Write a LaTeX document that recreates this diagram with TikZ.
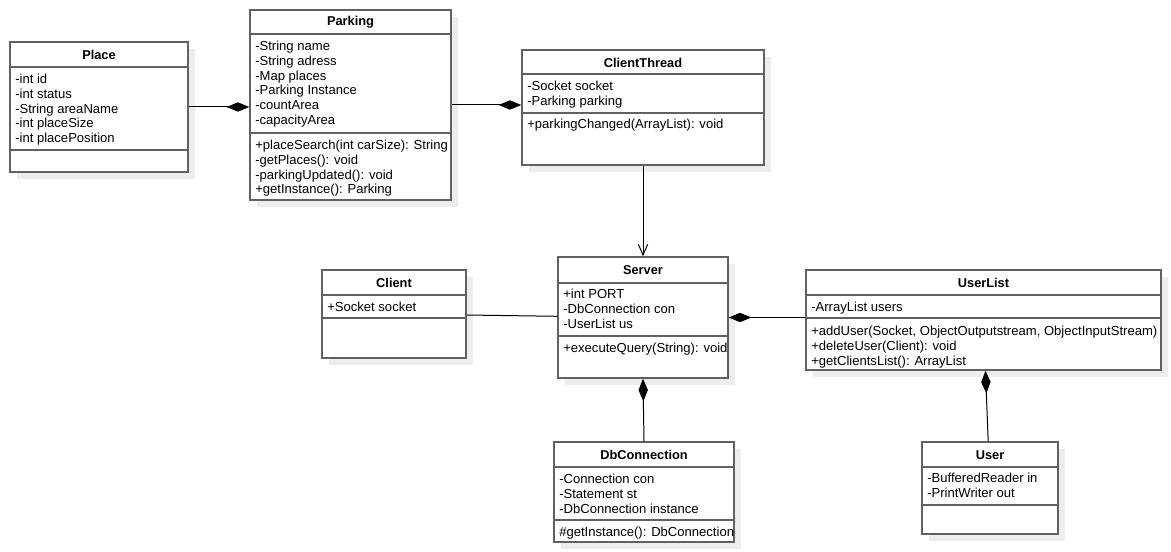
\documentclass[tikz,border=0pt]{standalone}
\usepackage{fontspec}
\setmainfont{Liberation Sans}
\usetikzlibrary{fit,arrows.meta,shadows}
\tikzset{
  classbox/.style={draw=black!62, line width=1.1pt, fill=white, inner sep=0pt,
    drop shadow={shadow xshift=5.25pt, shadow yshift=-5.25pt, fill=black!7, opacity=1}},
  sepline/.style={draw=black!62, line width=1.1pt},
  ctitle/.style={font=\fontsize{9.6}{11}\selectfont\bfseries, inner sep=0pt},
  member/.style={font=\fontsize{9.8}{11}\selectfont, inner sep=0pt, anchor=mid west},
  assoc/.style={draw=black, line width=0.75pt},
  comp/.style={assoc, {Diamond[length=17pt,width=7pt]}-},
  nav/.style={assoc, -{Straight Barb[length=8pt,width=7pt]}},
}
\newcommand{\umlclass}[8]{%
  \node[classbox, fit={(#2,#3)(#4,#5)}] (#1) {};
  \draw[sepline] (#2,#6) -- (#4,#6);
  \draw[sepline] (#2,#7) -- (#4,#7);
  \node[ctitle] (#1-title) at ({(#2+#4)/2},{(#3+#6)/2+0.5}) {#8};
}
\newcommand{\members}[4]{%
  \foreach \m [count=\i from 0] in {#4}
    \node[member] (#1-\i) at (#2,{#3+1+14.8*\i}) {\m};
}
\begin{document}
\begin{tikzpicture}[x=0.75pt,y=-0.75pt]
\useasboundingbox[fill=white] (0,0) rectangle (1171,552);

% Place
\umlclass{place}{10}{42}{188}{172}{67}{150}{Place}
\members{placea}{15}{79}{-int id,-int status,-String areaName,-int placeSize,-int placePosition}

% Parking
\umlclass{parking}{250}{10}{451}{200}{34}{133}{Parking}
\members{parkinga}{255}{46}{-String name,-String adress,-Map places,-Parking Instance,-countArea,-capacityArea}
\members{parkingm}{255}{145}{+placeSearch(int carSize): String,-getPlaces(): void,-parkingUpdated(): void,+getInstance(): Parking}

% ClientThread
\umlclass{ct}{522}{50}{764}{165}{74}{113}{ClientThread}
\members{cta}{527}{86}{-Socket socket,-Parking parking}
\members{ctm}{527}{124}{+parkingChanged(ArrayList): void}

% Server
\umlclass{server}{558}{257}{728}{378}{283}{336}{Server}
\members{servera}{563}{294}{+int PORT,-DbConnection con,-UserList us}
\members{serverm}{563}{348}{+executeQuery(String): void}

% Client
\umlclass{client}{322}{270}{466}{358}{295}{318}{Client}
\members{clienta}{327}{307}{+Socket socket}

% DbConnection
\umlclass{db}{554}{442}{734}{542}{467}{520}{DbConnection}
\members{dba}{559}{479}{-Connection con,-Statement st,-DbConnection instance}
\members{dbm}{559}{532}{\#getInstance(): DbConnection}

% UserList
\umlclass{userlist}{806}{270}{1161}{370}{295}{318}{UserList}
\members{userlista}{811}{307}{-ArrayList users}
\members{userlistm}{811}{331}{{+addUser(Socket, ObjectOutputstream, ObjectInputStream)},+deleteUser(Client): void,+getClientsList(): ArrayList}

% User
\umlclass{user}{922}{442}{1058}{534}{467}{505}{User}
\members{usera}{927}{478}{-BufferedReader in,-PrintWriter out}

% connectors
\draw[comp] (parking.west |- place.east) -- (place.east);
\draw[comp] (ct.west |- parking.east) -- (parking.east);
\draw[nav] (ct.south) -- (server.north);
\draw[assoc] (client) -- (server);
\draw[comp] (server.east) -- (server.east -| userlist.west);
\draw[comp] (server.south) -- (db.north);
\draw[comp] (userlist) -- (user);
\end{tikzpicture}
\end{document}
